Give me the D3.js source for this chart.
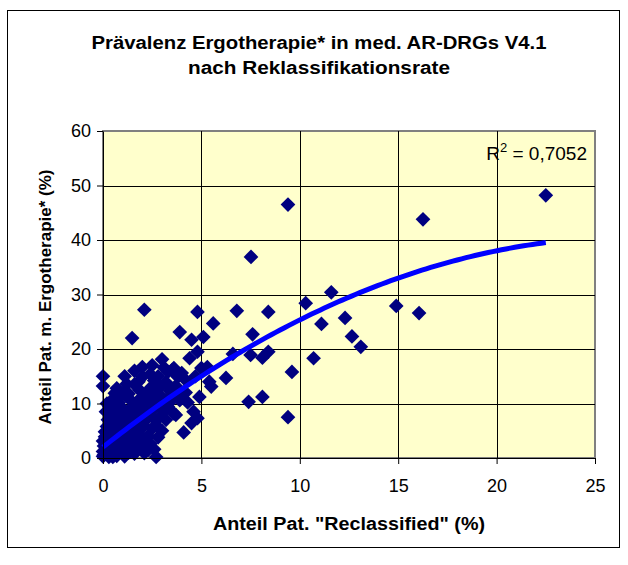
<!DOCTYPE html>
<meta charset="utf-8">
<title>Prävalenz Ergotherapie</title>
<style>
body {
  margin: 0;
  background: #fff;
}
svg {
  display: block;
  font-family: "Liberation Sans", Arial, sans-serif;
}
.axis path, .axis line {
  stroke: #000;
}
.axis text {
  font-size: 18px;
  fill: #000;
}
</style>
<body>
<script src="https://cdn.jsdelivr.net/npm/d3@7"></script>
<script>
'use strict';

// values: [reclassified %, ergotherapie %]
var points = [
  [0,0.3],[0,1.2],[0.05,2.2],[0,3.1],[0.1,3.9],[0.05,0.6],[0.15,1.8],[0,13.2],[0,15.0],[0.1,4.8],
  [0.2,5.8],[0.25,7.0],[0.15,8.5],[0.3,9.6],[0.5,10.8],[0.6,11.9],[0.2,10.0],
  [0.3,0.2],[0.35,1.5],[0.4,2.8],[0.3,4.2],[0.5,5.5],[0.45,6.8],[0.6,0.9],[0.55,3.5],[0.4,7.9],[0.6,8.7],
  [0.5,0.2],[0.65,2.4],[0.7,5.9],[0.55,4.6],[0.85,3.5],[0.7,12.8],
  [0.7,0.4],[0.8,2.0],[0.75,4.6],[0.9,6.0],[0.85,7.3],[1.0,9.1],[0.8,10.2],[0.95,11.6],[1.0,3.0],[0.9,1.1],[0.7,9.5],
  [1.05,4.2],[1.2,6.9],[1.05,7.9],[1.3,1.0],[1.2,13.6],
  [1.1,0.3],[1.2,1.8],[1.3,3.4],[1.15,5.2],[1.4,6.6],[1.25,8.0],[1.5,9.4],[1.35,10.8],[1.1,12.2],[1.45,4.3],[1.5,2.5],[1.3,11.8],[1.48,22.0],[1.1,15.0],
  [1.55,3.6],[1.6,5.4],[1.55,7.2],[1.7,8.6],[1.8,10.6],[1.95,3.8],[1.6,13.5],[1.8,14.0],[1.6,16.0],
  [1.6,0.8],[1.7,2.9],[1.8,4.5],[1.65,6.2],[1.9,7.8],[1.75,9.8],[2.0,11.0],[1.85,12.5],[2.0,1.5],[1.9,5.6],[2.0,14.9],[2.0,16.7],[2.1,27.2],
  [2.1,5.9],[2.05,9.2],[2.2,10.4],[2.25,12.1],[2.3,7.8],[2.1,0.9],[2.3,1.5],
  [2.2,2.7],[2.3,4.0],[2.15,6.9],[2.4,8.5],[2.5,10.0],[2.3,11.6],[2.45,13.0],[2.4,15.4],[2.5,5.4],[2.4,2.6],
  [2.6,7.2],[2.75,10.6],[2.55,11.9],[2.9,9.8],[2.6,14.2],[2.8,15.0],[2.5,17.0],
  [2.7,0.2],[2.8,3.8],[2.7,6.0],[2.9,7.6],[2.65,9.3],[3.0,11.1],[2.85,12.8],[3.0,18.1],[2.6,1.6],[3.0,5.0],
  [3.1,8.6],[3.05,10.2],[3.3,11.0],[3.1,16.6],[3.7,13.2],[3.6,16.5],
  [3.2,7.0],[3.3,9.4],[3.5,10.6],[3.4,12.3],[3.3,15.8],[3.5,16.1],[3.6,8.2],[3.2,13.9],
  [3.7,7.9],[3.8,14.9],[4.0,15.6],[4.1,4.7],[4.5,6.4],[4.4,18.3],[3.9,23.1],[4.5,21.7],[4.2,12.0],[4.3,10.2],[3.8,11.8],
  [4.2,14.3],[3.9,10.6],
  [4.8,7.3],[4.9,11.2],[4.8,19.5],[4.8,26.8],[5.1,22.2],[5.3,16.7],[5.4,14.0],[5.6,24.7],[5.5,13.1],[4.7,15.0],[5.0,16.5],[4.6,8.5],
  [6.25,14.7],[6.6,19.1],[6.8,27.0],[7.4,10.3],[7.5,18.9],[7.6,22.7],[7.52,36.9],[8.1,11.2],[8.1,18.4],[8.4,19.5],[8.4,26.8],[9.4,7.5],[9.4,46.5],[9.6,15.8],
  [10.3,28.4],[10.7,18.3],[11.1,24.6],[11.6,30.4],[12.3,25.7],[12.65,22.3],[13.1,20.4],[14.9,27.9],[16.06,26.6],[16.26,43.8],[22.5,48.2]
];

var xTicks = [0, 5, 10, 15, 20, 25],
    yTicks = [0, 10, 20, 30, 40, 50, 60];

// polynomial trendline y = a + b*x + c*x^2
var trendCoef = [2.0, 2.867, -0.0533],
    rSquared = "0,7052";

var title = ["Prävalenz Ergotherapie* in med. AR-DRGs V4.1", "nach Reklassifikationsrate"],
    xTitle = 'Anteil Pat. "Reclassified" (%)',
    yTitle = "Anteil Pat. m. Ergotherapie* (%)";

const W = 628, H = 565,
      plot = {left: 103, top: 131, right: 595, bottom: 458};

const x = d3.scaleLinear().domain([0, 25]).range([plot.left, plot.right]),
      y = d3.scaleLinear().domain([0, 60]).range([plot.bottom, plot.top]);

const svg = d3.select("body").append("svg")
    .attr("width", W)
    .attr("height", H);

// chart frame
svg.append("rect")
    .attr("x", 7.5).attr("y", 10.5)
    .attr("width", 612).attr("height", 537)
    .attr("fill", "#fff")
    .attr("stroke", "#000");

// plot area
svg.append("rect")
    .attr("x", plot.left).attr("y", plot.top)
    .attr("width", plot.right - plot.left).attr("height", plot.bottom - plot.top)
    .attr("fill", "#ffffcc")
    .attr("stroke", "#808080")
    .attr("stroke-width", 2);

// gridlines
svg.append("g")
  .selectAll("line")
  .data(yTicks.slice(1, -1))
  .enter().append("line")
    .attr("x1", plot.left).attr("x2", plot.right)
    .attr("y1", (d) => Math.round(y(d)) + 0.5)
    .attr("y2", (d) => Math.round(y(d)) + 0.5)
    .attr("stroke", "#000");

svg.append("g")
  .selectAll("line")
  .data(xTicks.slice(1, -1))
  .enter().append("line")
    .attr("y1", plot.top).attr("y2", plot.bottom)
    .attr("x1", (d) => Math.round(x(d)) + 0.5)
    .attr("x2", (d) => Math.round(x(d)) + 0.5)
    .attr("stroke", "#000");

// points
const diamond = d3.symbol().type(d3.symbolSquare).size(108);
svg.append("g")
  .selectAll("path")
  .data(points)
  .enter().append("path")
    .attr("d", diamond)
    .attr("transform", (d) => "translate(" + x(d[0]) + "," + y(d[1]) + ") rotate(45)")
    .attr("fill", "#000080");

// trendline
const xMax = d3.max(points, (d) => d[0]);
const trend = d3.range(0, 101).map(function(i) {
  var xv = xMax * i / 100;
  return [xv, trendCoef[0] + trendCoef[1] * xv + trendCoef[2] * xv * xv];
});
svg.append("path")
    .datum(trend)
    .attr("fill", "none")
    .attr("stroke", "#0000ff")
    .attr("stroke-width", 5)
    .attr("d", d3.line().x((d) => x(d[0])).y((d) => y(d[1])));

// axes
svg.append("g")
    .attr("class", "axis")
    .attr("transform", "translate(" + plot.left + ",0)")
    .call(d3.axisLeft(y).tickValues(yTicks).tickSize(6).tickPadding(6).tickSizeOuter(0));

svg.append("g")
    .attr("class", "axis")
    .attr("transform", "translate(0," + plot.bottom + ")")
    .call(d3.axisBottom(x).tickValues(xTicks).tickSize(6).tickPadding(15).tickSizeOuter(0));

// R² label
const r2 = svg.append("text")
    .attr("x", 587).attr("y", 160)
    .attr("text-anchor", "end")
    .style("font-size", "19px");
r2.append("tspan").text("R");
r2.append("tspan").attr("dy", -8).style("font-size", "13px").text("2");
r2.append("tspan").attr("dy", 8).text(" = " + rSquared);

// titles, one text per line so the glyphs get stretched like the original
const titleWidths = [455, 262];
svg.append("g")
  .selectAll("text")
  .data(title)
  .enter().append("text")
    .attr("x", 319)
    .attr("y", (d, i) => 49 + i * 25)
    .attr("text-anchor", "middle")
    .attr("textLength", (d, i) => titleWidths[i])
    .attr("lengthAdjust", "spacingAndGlyphs")
    .style("font-size", "18px")
    .style("font-weight", "bold")
    .text((d) => d);

svg.append("text")
    .attr("x", (plot.left + plot.right) / 2)
    .attr("y", 530)
    .attr("text-anchor", "middle")
    .attr("textLength", 272)
    .attr("lengthAdjust", "spacingAndGlyphs")
    .style("font-size", "18px")
    .style("font-weight", "bold")
    .text(xTitle);

svg.append("text")
    .attr("transform", "translate(51," + 297 + ") rotate(-90)")
    .attr("text-anchor", "middle")
    .style("font-size", "17px")
    .style("font-weight", "bold")
    .text(yTitle);
</script>
